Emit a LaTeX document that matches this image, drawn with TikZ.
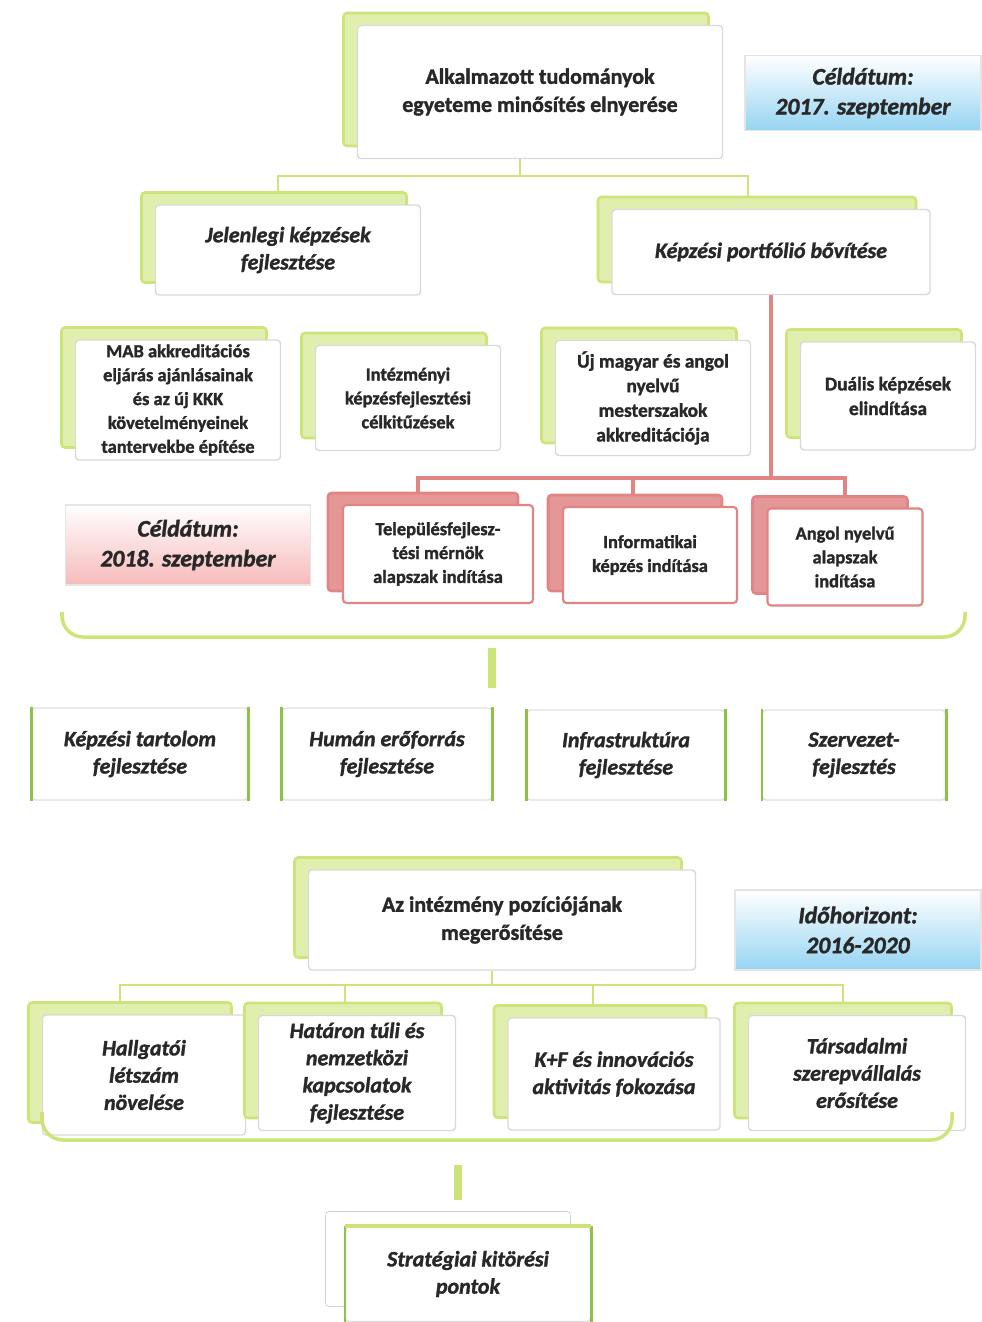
\documentclass[tikz,border=0pt]{standalone}
\usepackage{fontspec}
\setmainfont{Carlito}[BoldFont={Carlito Bold}, ItalicFont={Carlito Italic}, BoldItalicFont={Carlito Bold Italic}, BoldFeatures={FakeBold=1.5}, BoldItalicFeatures={FakeBold=1.5}]
\usetikzlibrary{shadows,backgrounds}
\definecolor{lgreen}{RGB}{205,228,120}
\definecolor{sgreen}{RGB}{140,195,70}
\definecolor{lred}{RGB}{224,132,132}
\definecolor{lblue}{RGB}{150,212,242}
\definecolor{lpink}{RGB}{246,186,186}
\definecolor{txt}{RGB}{40,40,40}

\begin{document}
\begin{tikzpicture}[x=0.02cm, y=-0.02cm, thick,
    box/.style={draw=gray!30, fill=white, rounded corners=2pt, align=center, text=txt, inner sep=2pt},
    gbox/.style={box, copy shadow={shadow xshift=-0.28cm, shadow yshift=0.25cm, draw=lgreen, fill=lgreen!60, line width=1.5pt}},
    rbox/.style={box, draw=lred, line width=1.2pt, copy shadow={shadow xshift=-0.3cm, shadow yshift=0.24cm, draw=lred, fill=lred!85, line width=1.5pt}},
    obox/.style={box, draw=gray!25},
    dbox/.style={draw=gray!20, top color=white, middle color=white, bottom color=#1, align=center, text=txt},
    big/.style={font=\fontsize{12.5}{16}\selectfont\bfseries},
    bigit/.style={font=\fontsize{12.5}{15.5}\selectfont\bfseries\itshape},
    small/.style={font=\fontsize{10.5}{13.6}\selectfont\bfseries},
    date/.style={font=\fontsize{13.5}{17}\selectfont\bfseries\itshape},
    gline/.style={draw=lgreen, line width=1.5pt},
    rline/.style={draw=lred, line width=2pt},
    stub/.style={draw=lgreen, line width=4pt},
    side/.style={draw=sgreen, line width=1.5pt}]

    \useasboundingbox (0,0) rectangle (981,1322);

    % goal and target date
    \node[gbox, big, minimum width=7.3cm, minimum height=2.66cm] (goal) at (540,92) {Alkalmazott tudományok\\egyeteme minősítés elnyerése};
    \node[dbox=lblue, date, minimum width=4.72cm, minimum height=1.5cm] (date1) at (863,93) {Céldátum:\\2017. szeptember};

    \node[gbox, bigit, minimum width=5.3cm, minimum height=1.8cm] (jel) at (288,250) {Jelenlegi képzések\\fejlesztése};
    \node[gbox, bigit, minimum width=6.36cm, minimum height=1.7cm] (port) at (771,252) {Képzési portfólió bővítése};

    \node[gbox, small, minimum width=4.1cm, minimum height=2.4cm] (mab) at (178,400) {MAB akkreditációs\\eljárás ajánlásainak\\és az új KKK\\követelményeinek\\tantervekbe építése};
    \node[gbox, small, minimum width=3.7cm, minimum height=2.1cm] (intez) at (408,398) {Intézményi\\képzésfejlesztési\\célkitűzések};
    \node[gbox, small, font=\fontsize{11}{14}\selectfont\bfseries, minimum width=3.9cm, minimum height=2.3cm] (uj) at (653,398) {Új magyar és angol\\nyelvű\\mesterszakok\\akkreditációja};
    \node[gbox, small, font=\fontsize{11}{14}\selectfont\bfseries, minimum width=3.5cm, minimum height=2.16cm] (dual) at (888,396) {Duális képzések\\elindítása};

    \node[dbox=lpink, date, minimum width=4.9cm, minimum height=1.6cm] (date2) at (188,545) {Céldátum:\\2018. szeptember};
    \node[rbox, small, minimum width=3.8cm, minimum height=1.96cm] (telep) at (438,554) {Településfejlesz-\\tési mérnök\\alapszak indítása};
    \node[rbox, small, minimum width=3.48cm, minimum height=1.92cm] (info) at (650,555) {Informatikai\\képzés indítása};
    \node[rbox, small, minimum width=3.1cm, minimum height=1.94cm] (angol) at (845,557) {Angol nyelvű\\alapszak\\indítása};

    % bracket and areas
    \draw[gline, line width=2pt, rounded corners=12pt] (62,612) -- (62,637) -- (965,637) -- (965,612);
    \coordinate (s1) at (492,648);
    \coordinate (s1e) at (492,688);
    \draw[stub] (s1) -- (s1e);

    \node[obox, bigit, minimum width=4.32cm, minimum height=1.84cm] (kt) at (140,754) {Képzési tartolom\\fejlesztése};
    \node[obox, bigit, minimum width=4.2cm, minimum height=1.84cm] (he) at (387,754) {Humán erőforrás\\fejlesztése};
    \node[obox, bigit, minimum width=3.96cm, minimum height=1.8cm] (inf) at (626,755) {Infrastruktúra\\fejlesztése};
    \node[obox, bigit, minimum width=3.66cm, minimum height=1.8cm] (sz) at (854,755) {Szervezet-\\fejlesztés};

    % second goal
    \node[gbox, big, minimum width=7.74cm, minimum height=2cm] (pos) at (502,920) {Az intézmény pozíciójának\\megerősítése};
    \node[dbox=lblue, date, minimum width=4.92cm, minimum height=1.6cm] (date3) at (858,930) {Időhorizont:\\2016-2020};

    \node[gbox, bigit, minimum width=4.06cm, minimum height=2.4cm] (hall) at (144,1075) {Hallgatói\\létszám\\növelése};
    \node[gbox, bigit, minimum width=3.94cm, minimum height=2.3cm] (hat) at (357,1073) {Határon túli és\\nemzetközi\\kapcsolatok\\fejlesztése};
    \node[gbox, bigit, minimum width=4.24cm, minimum height=2.24cm] (kf) at (614,1074) {K+F és innovációs\\aktivitás fokozása};
    \node[gbox, bigit, minimum width=4.34cm, minimum height=2.3cm] (tars) at (857,1073) {Társadalmi\\szerepvállalás\\erősítése};

    \draw[gline, line width=2pt, rounded corners=12pt] (42,1112) -- (42,1140) -- (952,1140) -- (952,1112);
    \coordinate (s2) at (458,1165);
    \coordinate (s2e) at (458,1200);
    \draw[stub] (s2) -- (s2e);

    \node[obox, bigit, minimum width=4.9cm, minimum height=1.9cm, copy shadow={shadow xshift=-0.4cm, shadow yshift=0.3cm, draw=gray!35, fill=white, thin}] (strat) at (468,1274) {Stratégiai kitörési\\pontok};

    \foreach \n in {kt,he,inf,sz,strat}
        \draw[side] (\n.north west) -- (\n.south west) (\n.north east) -- (\n.south east);
    \draw[side, draw=lgreen, line width=2pt] (strat.north west) -- (strat.north east);

    % connectors
    \begin{scope}[on background layer]
        \coordinate (j1) at (520,176);
        \draw[gline] (goal.south -| j1) -- (j1);
        \draw[gline] ([xshift=-0.2cm]jel.north) |- (j1) -| ([xshift=-0.46cm]port.north);
        \coordinate (rj) at (771,478);
        \draw[rline] (port.south) -- (rj);
        \draw[rline] ([xshift=-0.4cm]telep.north) |- (rj) -| (angol.north);
        \draw[rline] ([xshift=-0.34cm]info.north) -- ([xshift=-0.34cm]info.north |- rj);
        \coordinate (j2) at (492,985);
        \draw[gline] (pos.south -| j2) -- (j2);
        \draw[gline] ([xshift=-0.48cm]hall.north) |- (j2) -| ([xshift=-0.28cm]tars.north);
        \draw[gline] ([xshift=-0.24cm]hat.north) -- ([xshift=-0.24cm]hat.north |- j2);
        \draw[gline] ([xshift=-0.42cm]kf.north) -- ([xshift=-0.42cm]kf.north |- j2);
    \end{scope}
\end{tikzpicture}
\end{document}
